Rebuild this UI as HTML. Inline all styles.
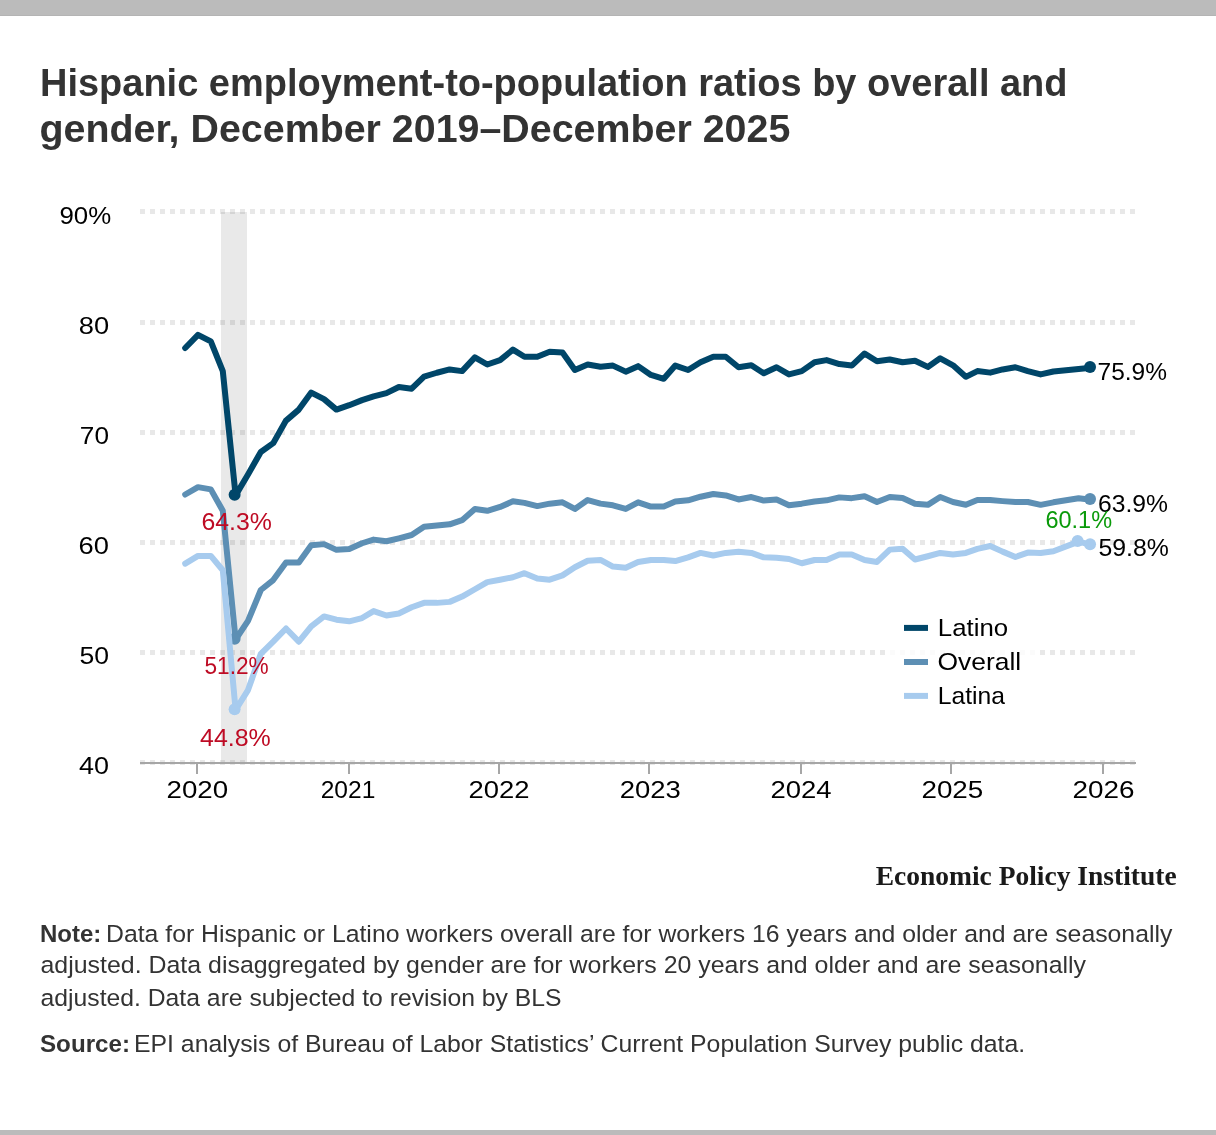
<!DOCTYPE html>
<html><head><meta charset="utf-8"><title>Hispanic employment-to-population ratios</title>
<style>html,body{margin:0;padding:0;background:#fff;}body{width:1216px;height:1135px;overflow:hidden;}svg{display:block;will-change:transform;}</style>
</head><body>
<svg width="1216" height="1135" viewBox="0 0 1216 1135">
<rect x="0" y="0" width="1216" height="15" fill="#bbbbbb"/>
<rect x="0" y="15" width="1216" height="1" fill="#b4b4b4"/>
<rect x="0" y="1130" width="1216" height="5" fill="#bbbbbb"/>
<rect x="221" y="212" width="26" height="550.5" fill="rgba(0,0,0,0.085)"/>
<line x1="140" y1="211.5" x2="1135" y2="211.5" stroke="rgba(0,0,0,0.09)" stroke-width="5" stroke-dasharray="5,5"/>
<line x1="140" y1="322.5" x2="1135" y2="322.5" stroke="rgba(0,0,0,0.09)" stroke-width="5" stroke-dasharray="5,5"/>
<line x1="140" y1="432.5" x2="1135" y2="432.5" stroke="rgba(0,0,0,0.09)" stroke-width="5" stroke-dasharray="5,5"/>
<line x1="140" y1="542.5" x2="1135" y2="542.5" stroke="rgba(0,0,0,0.09)" stroke-width="5" stroke-dasharray="5,5"/>
<line x1="140" y1="652.5" x2="1135" y2="652.5" stroke="rgba(0,0,0,0.09)" stroke-width="5" stroke-dasharray="5,5"/>
<line x1="140" y1="762.5" x2="1135" y2="762.5" stroke="rgba(0,0,0,0.09)" stroke-width="5" stroke-dasharray="5,5"/>
<rect x="140" y="762" width="996" height="2" fill="#a6a6a6"/>
<rect x="196" y="764" width="2" height="10" fill="#a6a6a6"/>
<rect x="348" y="764" width="2" height="10" fill="#a6a6a6"/>
<rect x="498" y="764" width="2" height="10" fill="#a6a6a6"/>
<rect x="648" y="764" width="2" height="10" fill="#a6a6a6"/>
<rect x="800" y="764" width="2" height="10" fill="#a6a6a6"/>
<rect x="950" y="764" width="2" height="10" fill="#a6a6a6"/>
<rect x="1102" y="764" width="2" height="10" fill="#a6a6a6"/>
<path d="M184.19,347.30 L197.00,334.10 L209.81,340.70 L221.80,370.40 L234.61,494.70 L247.00,473.80 L259.81,451.25 L272.21,442.45 L285.02,419.90 L297.83,408.90 L310.23,391.85 L323.04,398.45 L335.44,408.90 L348.25,404.50 L361.06,399.44 L372.63,395.70 L385.44,392.40 L397.84,386.35 L410.65,388.00 L423.05,375.90 L435.86,372.05 L448.67,368.75 L461.07,370.40 L473.88,356.65 L486.28,363.80 L499.09,359.40 L511.90,348.95 L523.47,356.10 L536.28,356.10 L548.68,351.04 L561.49,351.70 L573.89,369.30 L586.70,363.80 L599.51,366.00 L611.91,364.90 L624.72,370.95 L637.11,365.45 L649.92,374.25 L662.74,378.10 L674.31,364.90 L687.12,369.30 L699.52,361.60 L712.33,356.10 L724.72,356.10 L737.53,366.55 L750.35,364.57 L762.74,372.60 L775.55,366.55 L787.95,373.70 L800.76,370.40 L813.57,361.60 L825.56,359.40 L838.37,363.36 L850.77,364.90 L863.58,352.80 L875.97,360.50 L888.79,358.85 L901.60,361.60 L913.99,360.06 L926.80,366.22 L939.20,357.64 L952.01,364.57 L964.82,376.12 L976.39,370.40 L989.21,371.94 L1001.60,368.75 L1014.41,366.55 L1026.81,370.40 L1039.62,373.70 L1052.43,370.84 L1077.64,368.20 L1090.04,367.10" transform="translate(1,0.7)" fill="none" stroke="#004669" stroke-width="6" stroke-linejoin="round" stroke-linecap="round"/>
<circle cx="234.61" cy="494.70" r="6" fill="#004669"/>
<circle cx="1090.04" cy="367.10" r="6" fill="#004669"/>
<path d="M184.19,493.82 L197.00,486.45 L209.81,488.65 L221.80,510.10 L234.61,638.80 L247.00,620.10 L259.81,589.30 L272.21,579.40 L285.02,561.80 L297.83,561.80 L310.23,544.53 L323.04,543.43 L335.44,549.15 L348.25,548.27 L361.06,542.55 L372.63,538.92 L385.44,540.57 L397.84,537.60 L410.65,534.30 L423.05,526.05 L435.86,524.73 L448.67,523.63 L461.07,519.45 L473.88,508.34 L486.28,510.10 L499.09,506.25 L511.90,500.64 L523.47,502.18 L536.28,505.37 L548.68,502.95 L561.49,501.63 L573.89,508.23 L586.70,499.32 L599.51,502.95 L611.91,504.60 L624.72,508.23 L637.11,501.63 L649.92,505.92 L662.74,505.92 L674.31,500.86 L687.12,499.65 L699.52,496.02 L712.33,493.27 L724.72,494.70 L737.53,498.77 L750.35,496.35 L762.74,499.87 L775.55,498.77 L787.95,504.60 L800.76,502.95 L813.57,500.75 L825.56,499.65 L838.37,496.68 L850.77,497.45 L863.58,495.47 L875.97,501.30 L888.79,496.35 L901.60,497.34 L913.99,502.95 L926.80,504.16 L939.20,496.35 L952.01,501.30 L964.82,504.05 L976.39,499.32 L989.21,499.32 L1001.60,500.42 L1014.41,501.30 L1026.81,501.30 L1039.62,504.16 L1052.43,501.63 L1077.64,497.56 L1090.04,499.10" transform="translate(1,0.7)" fill="none" stroke="#5d8fb4" stroke-width="6" stroke-linejoin="round" stroke-linecap="round"/>
<circle cx="234.61" cy="638.80" r="6" fill="#5d8fb4"/>
<circle cx="1090.04" cy="499.10" r="6" fill="#5d8fb4"/>
<path d="M184.19,562.90 L197.00,555.20 L209.81,555.20 L221.80,569.50 L234.61,709.20 L247.00,689.40 L259.81,653.10 L272.21,641.00 L285.02,627.80 L297.83,641.00 L310.23,625.60 L323.04,615.70 L335.44,619.00 L348.25,620.65 L361.06,617.35 L372.63,610.42 L385.44,614.82 L397.84,612.73 L410.65,606.57 L423.05,602.17 L435.86,602.17 L448.67,601.18 L461.07,595.90 L473.88,588.53 L486.28,581.38 L499.09,579.07 L511.90,576.54 L523.47,572.47 L536.28,577.75 L548.68,578.96 L561.49,574.67 L573.89,566.53 L586.70,560.04 L599.51,559.27 L611.91,565.87 L624.72,566.97 L637.11,561.25 L649.92,559.27 L662.74,559.27 L674.31,560.37 L687.12,556.63 L699.52,552.23 L712.33,554.76 L724.72,552.23 L737.53,551.13 L750.35,552.23 L762.74,556.63 L775.55,557.07 L787.95,558.28 L800.76,562.57 L813.57,559.27 L825.56,559.27 L838.37,553.77 L850.77,553.77 L863.58,559.27 L875.97,561.25 L888.79,548.93 L901.60,548.05 L913.99,558.83 L926.80,555.53 L939.20,552.23 L952.01,553.88 L964.82,552.23 L976.39,548.16 L989.21,545.30 L1001.60,550.91 L1014.41,556.30 L1026.81,551.90 L1039.62,552.23 L1052.43,550.58 L1077.64,540.90 L1090.04,544.20" transform="translate(1,0.7)" fill="none" stroke="#a7cbee" stroke-width="6" stroke-linejoin="round" stroke-linecap="round"/>
<circle cx="234.61" cy="709.20" r="6" fill="#a7cbee"/>
<circle cx="1090.04" cy="544.20" r="6" fill="#a7cbee"/>
<circle cx="1077.64" cy="540.90" r="6" fill="#a7cbee"/>
<rect x="887" y="608" width="150" height="106" fill="#ffffff" fill-opacity="0.8"/>
<rect x="904" y="624.9" width="24" height="6" fill="#004669"/>
<rect x="904" y="659.0" width="24" height="6" fill="#5d8fb4"/>
<rect x="904" y="692.9" width="24" height="6" fill="#a7cbee"/>
<text x="59.45" y="223.75" font-family="'Liberation Sans', sans-serif" font-weight="normal" font-size="24.78" fill="#000" text-anchor="start" xml:space="preserve" textLength="51.70" lengthAdjust="spacingAndGlyphs">90%</text>
<text x="78.80" y="333.55" font-family="'Liberation Sans', sans-serif" font-weight="normal" font-size="23.44" fill="#000" text-anchor="start" xml:space="preserve" textLength="30.34" lengthAdjust="spacingAndGlyphs">80</text>
<text x="79.85" y="443.55" font-family="'Liberation Sans', sans-serif" font-weight="normal" font-size="23.30" fill="#000" text-anchor="start" xml:space="preserve" textLength="29.10" lengthAdjust="spacingAndGlyphs">70</text>
<text x="78.50" y="553.75" font-family="'Liberation Sans', sans-serif" font-weight="normal" font-size="23.44" fill="#000" text-anchor="start" xml:space="preserve" textLength="30.39" lengthAdjust="spacingAndGlyphs">60</text>
<text x="79.50" y="663.75" font-family="'Liberation Sans', sans-serif" font-weight="normal" font-size="24.21" fill="#000" text-anchor="start" xml:space="preserve" textLength="29.54" lengthAdjust="spacingAndGlyphs">50</text>
<text x="79.00" y="773.75" font-family="'Liberation Sans', sans-serif" font-weight="normal" font-size="24.21" fill="#000" text-anchor="start" xml:space="preserve" textLength="30.00" lengthAdjust="spacingAndGlyphs">40</text>
<text x="166.50" y="797.90" font-family="'Liberation Sans', sans-serif" font-weight="normal" font-size="24.15" fill="#000" text-anchor="start" xml:space="preserve" textLength="61.57" lengthAdjust="spacingAndGlyphs">2020</text>
<text x="320.70" y="797.70" font-family="'Liberation Sans', sans-serif" font-weight="normal" font-size="24.08" fill="#000" text-anchor="start" xml:space="preserve" textLength="54.70" lengthAdjust="spacingAndGlyphs">2021</text>
<text x="468.50" y="797.70" font-family="'Liberation Sans', sans-serif" font-weight="normal" font-size="24.08" fill="#000" text-anchor="start" xml:space="preserve" textLength="61.03" lengthAdjust="spacingAndGlyphs">2022</text>
<text x="619.65" y="797.70" font-family="'Liberation Sans', sans-serif" font-weight="normal" font-size="24.08" fill="#000" text-anchor="start" xml:space="preserve" textLength="61.10" lengthAdjust="spacingAndGlyphs">2023</text>
<text x="770.45" y="797.70" font-family="'Liberation Sans', sans-serif" font-weight="normal" font-size="24.08" fill="#000" text-anchor="start" xml:space="preserve" textLength="61.12" lengthAdjust="spacingAndGlyphs">2024</text>
<text x="921.45" y="797.70" font-family="'Liberation Sans', sans-serif" font-weight="normal" font-size="24.08" fill="#000" text-anchor="start" xml:space="preserve" textLength="61.83" lengthAdjust="spacingAndGlyphs">2025</text>
<text x="1072.50" y="797.70" font-family="'Liberation Sans', sans-serif" font-weight="normal" font-size="24.43" fill="#000" text-anchor="start" xml:space="preserve" textLength="61.98" lengthAdjust="spacingAndGlyphs">2026</text>
<text x="201.40" y="529.70" font-family="'Liberation Sans', sans-serif" font-weight="normal" font-size="24.43" fill="#be0b24" text-anchor="start" xml:space="preserve" textLength="70.45" lengthAdjust="spacingAndGlyphs">64.3%</text>
<text x="204.50" y="673.70" font-family="'Liberation Sans', sans-serif" font-weight="normal" font-size="24.00" fill="#be0b24" text-anchor="start" xml:space="preserve" textLength="64.21" lengthAdjust="spacingAndGlyphs">51.2%</text>
<text x="200.00" y="745.90" font-family="'Liberation Sans', sans-serif" font-weight="normal" font-size="24.43" fill="#be0b24" text-anchor="start" xml:space="preserve" textLength="70.77" lengthAdjust="spacingAndGlyphs">44.8%</text>
<text x="1097.55" y="379.55" font-family="'Liberation Sans', sans-serif" font-weight="normal" font-size="24.15" fill="#000" text-anchor="start" xml:space="preserve" textLength="69.36" lengthAdjust="spacingAndGlyphs">75.9%</text>
<text x="1097.95" y="511.70" font-family="'Liberation Sans', sans-serif" font-weight="normal" font-size="24.15" fill="#000" text-anchor="start" xml:space="preserve" textLength="70.02" lengthAdjust="spacingAndGlyphs">63.9%</text>
<text x="1098.50" y="555.55" font-family="'Liberation Sans', sans-serif" font-weight="normal" font-size="23.87" fill="#000" text-anchor="start" xml:space="preserve" textLength="70.37" lengthAdjust="spacingAndGlyphs">59.8%</text>
<text x="1045.40" y="527.70" font-family="'Liberation Sans', sans-serif" font-weight="normal" font-size="24.15" fill="#0a9a0a" text-anchor="start" xml:space="preserve" textLength="66.67" lengthAdjust="spacingAndGlyphs">60.1%</text>
<text x="937.80" y="636.00" font-family="'Liberation Sans', sans-serif" font-weight="normal" font-size="24.80" fill="#000" text-anchor="start" xml:space="preserve" textLength="70.29" lengthAdjust="spacingAndGlyphs">Latino</text>
<text x="937.40" y="669.90" font-family="'Liberation Sans', sans-serif" font-weight="normal" font-size="24.80" fill="#000" text-anchor="start" xml:space="preserve" textLength="83.78" lengthAdjust="spacingAndGlyphs">Overall</text>
<text x="937.80" y="703.80" font-family="'Liberation Sans', sans-serif" font-weight="normal" font-size="24.80" fill="#000" text-anchor="start" xml:space="preserve" textLength="67.25" lengthAdjust="spacingAndGlyphs">Latina</text>
<text x="875.65" y="885.00" font-family="'Liberation Serif', serif" font-weight="bold" font-size="27.00" fill="#1a1a1a" text-anchor="start" xml:space="preserve" textLength="301.06" lengthAdjust="spacingAndGlyphs">Economic Policy Institute</text>
<text x="40.00" y="95.90" font-family="'Liberation Sans', sans-serif" font-weight="bold" font-size="38.70" fill="#333333" text-anchor="start" xml:space="preserve" textLength="1027.51" lengthAdjust="spacingAndGlyphs">Hispanic employment-to-population ratios by overall and</text>
<text x="39.50" y="142.00" font-family="'Liberation Sans', sans-serif" font-weight="bold" font-size="38.70" fill="#333333" text-anchor="start" xml:space="preserve" textLength="750.82" lengthAdjust="spacingAndGlyphs">gender, December 2019–December 2025</text>
<text x="40.00" y="941.60" font-family="'Liberation Sans', sans-serif" font-weight="bold" font-size="24.50" fill="#333333" text-anchor="start" xml:space="preserve" textLength="61.35" lengthAdjust="spacingAndGlyphs">Note:</text>
<text x="106.00" y="941.60" font-family="'Liberation Sans', sans-serif" font-weight="normal" font-size="24.50" fill="#333333" text-anchor="start" xml:space="preserve" textLength="1066.32" lengthAdjust="spacingAndGlyphs">Data for Hispanic or Latino workers overall are for workers 16 years and older and are seasonally</text>
<text x="40.50" y="973.40" font-family="'Liberation Sans', sans-serif" font-weight="normal" font-size="24.50" fill="#333333" text-anchor="start" xml:space="preserve" textLength="1045.56" lengthAdjust="spacingAndGlyphs">adjusted. Data disaggregated by gender are for workers 20 years and older and are seasonally</text>
<text x="40.50" y="1005.50" font-family="'Liberation Sans', sans-serif" font-weight="normal" font-size="24.50" fill="#333333" text-anchor="start" xml:space="preserve" textLength="521.09" lengthAdjust="spacingAndGlyphs">adjusted. Data are subjected to revision by BLS</text>
<text x="40.00" y="1051.60" font-family="'Liberation Sans', sans-serif" font-weight="bold" font-size="24.50" fill="#333333" text-anchor="start" xml:space="preserve" textLength="90.01" lengthAdjust="spacingAndGlyphs">Source:</text>
<text x="134.00" y="1051.60" font-family="'Liberation Sans', sans-serif" font-weight="normal" font-size="24.50" fill="#333333" text-anchor="start" xml:space="preserve" textLength="891.18" lengthAdjust="spacingAndGlyphs">EPI analysis of Bureau of Labor Statistics’ Current Population Survey public data.</text>
</svg>
</body></html>
